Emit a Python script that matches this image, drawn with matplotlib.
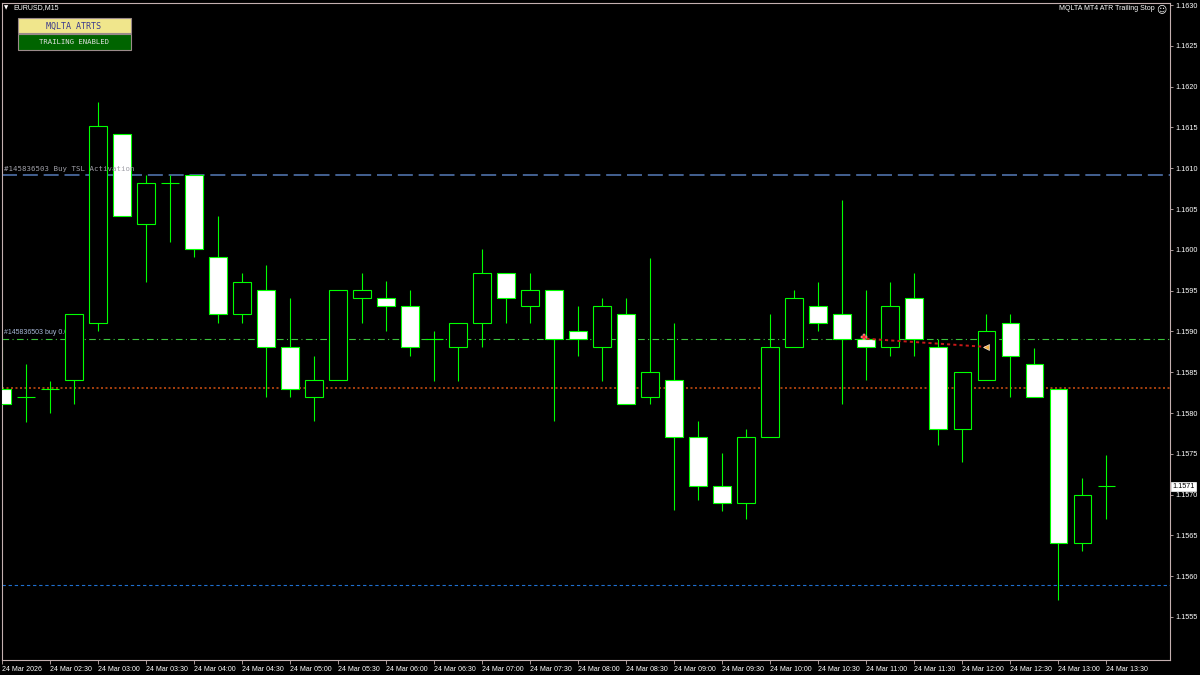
import matplotlib
matplotlib.use("Agg")
import matplotlib.pyplot as plt
from matplotlib.patches import Rectangle
import matplotlib.transforms as mtransforms

# ---------------- data (EURUSD M15, 24 Mar 2026, 02:00 -> 13:30) ----------------
opens = [1.15830, 1.15820, 1.15829, 1.15840, 1.15910, 1.16142, 1.16032, 1.16082, 1.16092, 1.15991,
         1.15921, 1.15951, 1.15881, 1.15820, 1.15840, 1.15941, 1.15941, 1.15931, 1.15891, 1.15881,
         1.15910, 1.15972, 1.15931, 1.15951, 1.15900, 1.15881, 1.15921, 1.15820, 1.15840, 1.15771,
         1.15711, 1.15690, 1.15771, 1.15881, 1.15931, 1.15921, 1.15891, 1.15881, 1.15941, 1.15881,
         1.15780, 1.15840, 1.15910, 1.15860, 1.15829, 1.15641, 1.15710]
highs = [1.15881, 1.15860, 1.15839, 1.15921, 1.16181, 1.16142, 1.16092, 1.16092, 1.16092, 1.16041,
         1.15972, 1.15981, 1.15941, 1.15870, 1.15951, 1.15972, 1.15962, 1.15951, 1.15900, 1.15910,
         1.16001, 1.15972, 1.15972, 1.15951, 1.15931, 1.15941, 1.15941, 1.15990, 1.15910, 1.15790,
         1.15751, 1.15780, 1.15921, 1.15951, 1.15961, 1.16061, 1.15951, 1.15961, 1.15972, 1.15891,
         1.15850, 1.15921, 1.15921, 1.15880, 1.15829, 1.15720, 1.15749]
lows = [1.15810, 1.15789, 1.15800, 1.15811, 1.15901, 1.16041, 1.15961, 1.16010, 1.15991, 1.15910,
        1.15910, 1.15820, 1.15820, 1.15790, 1.15840, 1.15910, 1.15900, 1.15870, 1.15839, 1.15839,
        1.15881, 1.15910, 1.15910, 1.15790, 1.15870, 1.15839, 1.15811, 1.15811, 1.15681, 1.15693,
        1.15680, 1.15670, 1.15771, 1.15881, 1.15900, 1.15811, 1.15840, 1.15870, 1.15870, 1.15761,
        1.15740, 1.15840, 1.15820, 1.15820, 1.15571, 1.15631, 1.15670]
closes = [1.15811, 1.15820, 1.15829, 1.15921, 1.16152, 1.16041, 1.16082, 1.16082, 1.16001, 1.15921,
          1.15961, 1.15881, 1.15829, 1.15840, 1.15951, 1.15951, 1.15931, 1.15881, 1.15891, 1.15910,
          1.15972, 1.15941, 1.15951, 1.15891, 1.15891, 1.15931, 1.15811, 1.15850, 1.15771, 1.15711,
          1.15690, 1.15771, 1.15881, 1.15941, 1.15910, 1.15891, 1.15881, 1.15931, 1.15891, 1.15780,
          1.15850, 1.15900, 1.15870, 1.15820, 1.15641, 1.15700, 1.15710]

time_labels = ["24 Mar 2026", "24 Mar 02:30", "24 Mar 03:00", "24 Mar 03:30", "24 Mar 04:00",
               "24 Mar 04:30", "24 Mar 05:00", "24 Mar 05:30", "24 Mar 06:00", "24 Mar 06:30",
               "24 Mar 07:00", "24 Mar 07:30", "24 Mar 08:00", "24 Mar 08:30", "24 Mar 09:00",
               "24 Mar 09:30", "24 Mar 10:00", "24 Mar 10:30", "24 Mar 11:00", "24 Mar 11:30",
               "24 Mar 12:00", "24 Mar 12:30", "24 Mar 13:00", "24 Mar 13:30"]
price_ticks = [1.1555, 1.1560, 1.1565, 1.1570, 1.1575, 1.1580, 1.1585, 1.1590,
               1.1595, 1.1600, 1.1605, 1.1610, 1.1615, 1.1620, 1.1625, 1.1630]

tsl_activation = 1.16092
buy_open = 1.15891
orange_level = 1.15831
blue_level = 1.15589
current_price = 1.1571
trade_start = (36, 1.15891)
trade_end = (41, 1.15881)

# ---------------- figure ----------------
W, H = 1200, 675
fig = plt.figure(figsize=(W / 100, H / 100), dpi=100, facecolor="black")
ax = fig.add_axes([2 / W, 15 / H, 1168 / W, 657 / H], facecolor="black")
ax.set_xlim(-0.0125, 48.65)
ax.set_ylim(1.154973, 1.163025)

LIME = "#00ff00"
n = len(opens)
xs = list(range(n))

# horizontal level lines (behind candles)
ax.axhline(tsl_activation, color="#4f72aa", lw=1.2, dashes=(9, 3.5), zorder=1)
ax.axhline(buy_open, color="#3cc43c", lw=0.8, dashes=(6, 3, 1, 3), zorder=1)
ax.axhline(orange_level, color="#c04a10", lw=1.2, dashes=(1.2, 1.5), zorder=1)
ax.axhline(blue_level, color="#1f6fd0", lw=0.8, dashes=(3, 2.5), zorder=1)

ax.text(0.08, buy_open + 0.00003, "#145836503 buy 0.01", color="#a8b8d8",
        fontsize=5, family="Liberation Sans", va="bottom", ha="left", zorder=1.5)

# wicks
ax.vlines(xs, lows, highs, color=LIME, lw=0.8, zorder=2)

# bodies
body_w = 0.74
for i in xs:
    o, c = opens[i], closes[i]
    if abs(o - c) < 1e-7:
        ax.hlines(o, i - body_w / 2, i + body_w / 2, color=LIME, lw=0.8, zorder=3)
        continue
    fc = "white" if c < o else "black"
    ax.bar(i, abs(c - o), bottom=min(o, c), width=body_w, color=fc,
           edgecolor=LIME, linewidth=0.8, zorder=3)

# trade line and arrows (on top)
ax.plot([trade_start[0], trade_end[0]], [trade_start[1], trade_end[1]],
        color="#c81818", lw=1.4, dashes=(1.6, 1.6), zorder=5)
ax.plot(trade_start[0] - 0.1, trade_start[1] + 0.00002, marker="P", color="#ff2020",
        markersize=4.5, markeredgecolor="white", markeredgewidth=0.3, zorder=6)
ax.plot(trade_end[0], trade_end[1], marker="<", color="#f0b040",
        markersize=4.5, markeredgecolor="white", markeredgewidth=0.4, zorder=6)

ax.text(0.08, tsl_activation + 0.00003, "#145836503 Buy TSL Activation", color="#a0a0a8",
        fontsize=5.3, family="DejaVu Sans Mono", va="bottom", ha="left", zorder=7)

# axes styling
for s in ax.spines.values():
    s.set_color("#c4b0b0")
    s.set_linewidth(0.8)

ax.yaxis.tick_right()
ax.set_yticks(price_ticks)
ax.set_yticklabels([f"{p:.4f}" for p in price_ticks])
ax.tick_params(axis="y", direction="out", length=2.5, width=0.6, color="#c4b0b0",
               labelcolor="white", labelsize=5.2, pad=1.5)
ax.set_xticks(list(range(0, 47, 2)))
ax.set_xticklabels(time_labels)
ax.tick_params(axis="x", direction="out", length=3, width=0.6, color="#c4b0b0",
               labelcolor="white", labelsize=5, pad=1)
for lab in ax.get_xticklabels():
    lab.set_horizontalalignment("left")
for lab in ax.get_xticklabels() + ax.get_yticklabels():
    lab.set_family("Liberation Sans")

# current price box on right axis
trans = mtransforms.blended_transform_factory(ax.transAxes, ax.transData)
ax.annotate("1.1571", xy=(1.0, current_price), xycoords=trans, xytext=(1.6, 0),
            textcoords="offset points", ha="left", va="center", fontsize=5.2,
            family="Liberation Sans", color="black", zorder=10, annotation_clip=False,
            bbox=dict(boxstyle="square,pad=0.2", fc="white", ec="white", lw=0.5))

# ---------------- overlay texts (figure pixel coords) ----------------
def fx(x):
    return x / W


def fy(y):
    return 1 - y / H


fig.text(fx(4), fy(8), "\u25bc", color="white", fontsize=4, va="center", ha="left",
         family="DejaVu Sans")
fig.text(fx(13), fy(8), "EURUSD,M15", color="white", fontsize=5, va="center", ha="left",
         family="Liberation Sans")

fig.patches.append(Rectangle((fx(18), fy(33)), fx(113), 15 / H, transform=fig.transFigure,
                             fc="#f0e68c", ec="#9a8a8a", lw=0.8))
fig.text(fx(74), fy(26), "MQLTA ATRTS", color="#3a3a8c", fontsize=6, va="center", ha="center",
         family="DejaVu Sans Mono")
fig.patches.append(Rectangle((fx(18), fy(49.5)), fx(113), 15.5 / H, transform=fig.transFigure,
                             fc="#006400", ec="#9a8a8a", lw=0.8))
fig.text(fx(74), fy(42), "TRAILING ENABLED", color="#e0e0e0", fontsize=5.2, va="center",
         ha="center", family="DejaVu Sans Mono")

fig.text(fx(1155), fy(9), "MQLTA MT4 ATR Trailing Stop", color="white", fontsize=5,
         va="center", ha="right", family="Liberation Sans")
fig.text(fx(1156), fy(9), "\u263a", color="white", fontsize=7, va="center", ha="left",
         family="DejaVu Sans")

fig.savefig("out.png", dpi=100, facecolor="black")
